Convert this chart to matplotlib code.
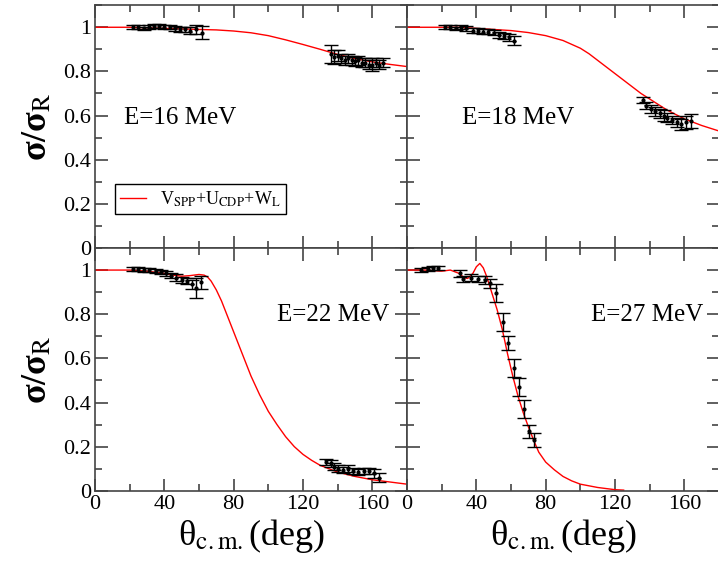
import numpy as np
import matplotlib
matplotlib.use("Agg")
import matplotlib.pyplot as plt
from matplotlib.ticker import MultipleLocator, FuncFormatter

plt.rcParams['font.family'] = ['Liberation Serif', 'DejaVu Serif']
plt.rcParams['mathtext.fontset'] = 'stix'

# ---- model curves (theta in deg, sigma/sigma_R) ----
th16 = [0, 20, 40, 60, 70, 80, 90, 100, 110, 120, 130, 140, 150, 160, 170, 180]
cv16 = [1.0, 1.0, 0.995, 0.99, 0.988, 0.983, 0.975, 0.962, 0.943, 0.922, 0.90, 0.877, 0.858, 0.843, 0.832, 0.822]

th18 = [0, 10, 20, 30, 40, 50, 60, 70, 80, 90, 100, 105, 110, 115, 120, 125, 130, 135, 140,
        150, 160, 170, 180]
cv18 = [1.0, 1.0, 1.0, 1.0, 0.995, 0.99, 0.985, 0.976, 0.962, 0.94, 0.905, 0.88, 0.85, 0.82,
        0.79, 0.76, 0.73, 0.70, 0.675, 0.625, 0.585, 0.555, 0.53]

th22 = [0, 10, 20, 30, 40, 45, 50, 55, 60, 63, 65, 67, 70, 73, 76, 80, 85, 90, 95, 100, 105, 110,
        115, 120, 125, 130, 140, 150, 160, 170, 180]
cv22 = [1.0, 1.0, 1.0, 0.995, 0.985, 0.977, 0.972, 0.975, 0.98, 0.977, 0.968, 0.95, 0.91, 0.86,
        0.80, 0.72, 0.62, 0.52, 0.435, 0.36, 0.30, 0.245, 0.20, 0.165, 0.138, 0.115, 0.085, 0.065,
        0.05, 0.04, 0.03]

th27 = [0, 10, 20, 25, 30, 33, 35, 38, 40, 42, 44, 46, 48, 50, 52, 55, 58, 61, 64, 67, 70, 73, 76,
        80, 85, 90, 95, 100, 110, 120, 125]
cv27 = [1.0, 1.0, 0.995, 1.0, 0.985, 0.965, 0.962, 0.985, 1.015, 1.03, 1.01, 0.97, 0.92, 0.87,
        0.82, 0.73, 0.62, 0.52, 0.43, 0.355, 0.29, 0.23, 0.175, 0.13, 0.095, 0.065, 0.045, 0.03,
        0.015, 0.005, 0.003]

# ---- experimental data ----
x16 = [22, 25, 28, 31, 34, 37, 40, 43, 46, 49, 52, 55, 58, 62,
       136, 138, 140, 142, 144, 146, 148, 150, 152, 154, 156, 158, 160, 162, 164, 166]
y16 = [1.0, 1.0, 0.995, 1.0, 1.005, 1.005, 1.0, 1.0, 0.995, 0.99, 0.99, 0.985, 0.99, 0.975,
       0.88, 0.865, 0.87, 0.86, 0.85, 0.86, 0.85, 0.845, 0.85, 0.84, 0.84, 0.83, 0.83, 0.84, 0.83, 0.84]
e16 = [0.008, 0.008, 0.008, 0.01, 0.01, 0.01, 0.01, 0.01, 0.01, 0.01, 0.012, 0.015, 0.02, 0.03,
       0.04, 0.03, 0.025, 0.02, 0.02, 0.02, 0.02, 0.02, 0.02, 0.02, 0.02, 0.02, 0.03, 0.02, 0.02, 0.02]

x18 = [22, 25, 28, 31, 34, 38, 41, 44, 47, 50, 53, 56, 59, 62,
       136, 138, 141, 143, 146, 148, 150, 153, 156, 158, 161, 164]
y18 = [1.0, 1.0, 0.995, 1.0, 0.995, 0.985, 0.985, 0.98, 0.98, 0.975, 0.965, 0.96, 0.955, 0.94,
       0.67, 0.645, 0.63, 0.62, 0.61, 0.60, 0.59, 0.58, 0.57, 0.56, 0.57, 0.575]
e18 = [0.008, 0.008, 0.008, 0.01, 0.01, 0.01, 0.01, 0.01, 0.012, 0.012, 0.015, 0.015, 0.015, 0.02,
       0.015, 0.015, 0.02, 0.02, 0.02, 0.025, 0.02, 0.02, 0.02, 0.025, 0.03, 0.03]

x22 = [22, 25, 28, 31, 35, 38, 41, 44, 47, 50, 53, 56, 58, 61,
       133, 136, 138, 140, 143, 146, 149, 152, 155, 158, 161, 164]
y22 = [1.005, 1.005, 1.0, 1.0, 0.995, 0.99, 0.985, 0.975, 0.965, 0.955, 0.95, 0.935, 0.92, 0.945,
       0.13, 0.125, 0.11, 0.10, 0.095, 0.10, 0.09, 0.085, 0.09, 0.09, 0.08, 0.06]
e22 = [0.008, 0.008, 0.008, 0.01, 0.01, 0.01, 0.012, 0.012, 0.015, 0.015, 0.015, 0.02, 0.045, 0.03,
       0.015, 0.015, 0.015, 0.015, 0.015, 0.015, 0.015, 0.015, 0.015, 0.015, 0.02, 0.02]

x27 = [8, 12, 15, 18, 30.5, 32.5, 37, 41, 45, 48, 51.6, 55.3, 58, 61.5, 64.6, 67.3, 70.2, 73]
y27 = [1.0, 1.005, 1.01, 1.01, 0.985, 0.96, 0.965, 0.96, 0.955, 0.94, 0.895, 0.765, 0.67,
       0.555, 0.47, 0.37, 0.27, 0.23]
e27 = [0.01, 0.01, 0.01, 0.01, 0.015, 0.015, 0.015, 0.015, 0.02, 0.02, 0.04, 0.04, 0.03,
       0.04, 0.04, 0.04, 0.03, 0.03]

panels = [
    (th16, cv16, x16, y16, e16, "E=16 MeV", (17, 0.56)),
    (th18, cv18, x18, y18, e18, "E=18 MeV", (32, 0.56)),
    (th22, cv22, x22, y22, e22, "E=22 MeV", (105, 0.77)),
    (th27, cv27, x27, y27, e27, "E=27 MeV", (106, 0.77)),
]

fig = plt.figure(figsize=(7.18, 5.64), dpi=100)
W, H = 0.4345, 0.4305
pos = [(0.1323, 0.5603), (0.5669, 0.5603), (0.1323, 0.1298), (0.5669, 0.1298)]

for i, (th, cv, xd, yd, ed, lab, tpos) in enumerate(panels):
    ax = fig.add_axes([pos[i][0], pos[i][1], W, H])
    ax.plot(th, cv, color='red', lw=1.0,
            label=r'V$_{\rm SPP}$+U$_{\rm CDP}$+W$_{\rm L}$')
    ax.errorbar(xd, yd, yerr=ed, fmt='o', ms=2, color='black', ecolor='black',
                elinewidth=1.0, capsize=5, capthick=1.0)
    ax.set_xlim(0, 180)
    ax.set_ylim(0, 1.1)
    ax.xaxis.set_major_locator(MultipleLocator(40))
    ax.xaxis.set_minor_locator(MultipleLocator(20))
    ax.yaxis.set_major_locator(MultipleLocator(0.2))
    ax.yaxis.set_minor_locator(MultipleLocator(0.1))
    ax.yaxis.set_major_formatter(FuncFormatter(lambda v, p: '%g' % round(v, 2)))
    ax.tick_params(which='both', direction='in', top=True, right=True, labelsize=16,
                   width=1.2, color='#444444', pad=3)
    ax.tick_params(which='major', length=9)
    ax.tick_params(which='minor', length=5)
    for s in ax.spines.values():
        s.set_linewidth(1.2)
        s.set_color('#444444')
    if i < 2:
        ax.tick_params(labelbottom=False)
    else:
        ax.set_xlabel('θ$_{\\rm c.m.}$(deg)', fontsize=26, labelpad=2)
    if i % 2 == 1:
        ax.tick_params(labelleft=False)
    else:
        ax.set_ylabel('σ/σ$_{\\rm R}$', fontsize=26, fontweight='bold', labelpad=6)
    ax.text(tpos[0], tpos[1], lab, fontsize=18)
    if i == 0:
        leg = ax.legend(loc='lower left', bbox_to_anchor=(0.064, 0.14), borderaxespad=0,
                        fontsize=13, fancybox=False, framealpha=1, edgecolor='black',
                        handlelength=1.4, borderpad=0.3)
        leg.get_frame().set_linewidth(1.0)

fig.savefig("out.png", dpi=100)
